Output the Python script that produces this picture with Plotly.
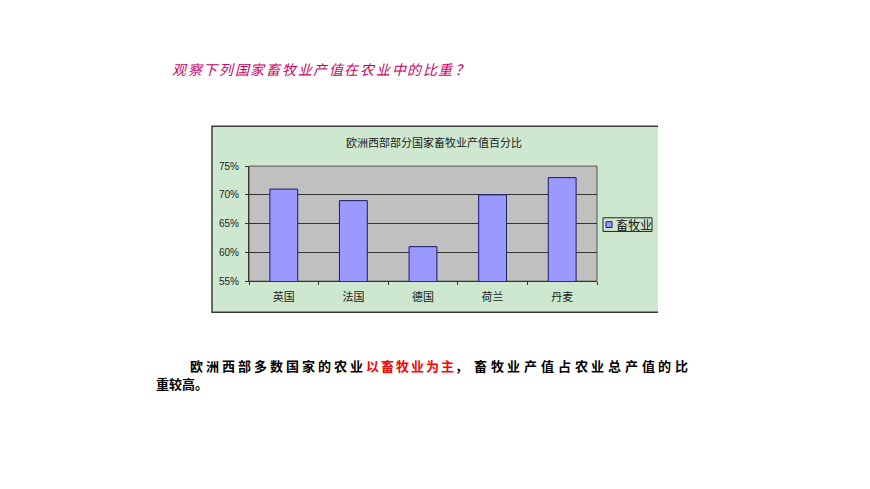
import plotly.graph_objects as go

countries = ["英国", "法国", "德国", "荷兰", "丹麦"]
livestock_share = [71, 69, 61, 70, 73]
series_name = "畜牧业"
chart_title = "欧洲西部部分国家畜牧业产值百分比"
slide_title = "观察下列国家畜牧业产值在农业中的比重？"
body_line1 = [("欧洲西部多数国家的农业", "black"), ("以畜牧业为主", "#ff0000"),
              ("，", "black"), ("畜牧业产值占农业总产值的比", "black")]
body_line2 = "重较高。"

# page body has an 8px margin, so the figure is a bit smaller than the window
OFF = 8
W, H = 870 - OFF, 489 - OFF
CJK = "Noto Sans CJK SC"
BAR_COLOR = "#9999ff"
GREEN = "#cde8cf"


def px(x):
    return (x - OFF) / W


def py(y):
    return 1 - (y - OFF) / H


def text(t, x, y, size, color, xanchor="center", **font):
    return dict(text=t, xref="paper", yref="paper", x=px(x), y=py(y),
                xanchor=xanchor, yanchor="middle", showarrow=False,
                font=dict(family=CJK, size=size, color=color, **font))


fig = go.Figure()
fig.add_trace(go.Bar(
    x=countries, y=livestock_share, name=series_name, width=0.4,
    marker=dict(color=BAR_COLOR, line=dict(color="#1a1a66", width=1)),
    showlegend=False,
))

shapes = [
    # chart area
    dict(type="rect", xref="paper", yref="paper", x0=px(212), x1=px(658),
         y0=py(314), y1=py(123), fillcolor=GREEN, line=dict(width=0), layer="below"),
    dict(type="path", xref="paper", yref="paper",
         path=f"M {px(658)} {py(314)} L {px(212)} {py(314)} L {px(212)} {py(123)} L {px(658)} {py(123)}",
         line=dict(color="#3a3a3a", width=1.5)),
    # plot area
    dict(type="rect", xref="paper", yref="paper", x0=px(249), x1=px(597),
         y0=py(282), y1=py(164), fillcolor="#c0c0c0", line=dict(color="#555555", width=1), layer="below"),
    # legend box
    dict(type="rect", xref="paper", yref="paper", x0=px(603), x1=px(652),
         y0=py(231), y1=py(217), fillcolor=GREEN, line=dict(color="#222222", width=1)),
    dict(type="rect", xref="paper", yref="paper", x0=px(606), x1=px(612),
         y0=py(227), y1=py(221), fillcolor=BAR_COLOR, line=dict(color="#1a1a66", width=1)),
]

annotations = [
    text(chart_title, 434, 139, 11, "#222222"),
    text(series_name, 614, 224, 12, "#111111", xanchor="left"),
]

# slide title, one char per slot
pitch = (470 - 172) / len(slide_title)
for i, ch in enumerate(slide_title):
    annotations.append(text(ch, 172 + pitch * (i + 0.5), 64, 14, "#cc0066", style="italic"))

# body text line 1 (justified, each run spread over its own span)
spans = [(188, 365), (365, 455), (455, 469), (472, 690)]
for (seg, col), (x0, x1) in zip(body_line1, spans):
    pitch = (x1 - x0) / len(seg)
    for i, ch in enumerate(seg):
        annotations.append(text(f"<b>{ch}</b>", x0 + pitch * (i + 0.5), 368, 13, col))
annotations.append(text(f"<b>{body_line2}</b>", 154, 387, 13, "black", xanchor="left"))

fig.update_layout(
    width=W, height=H,
    margin=dict(l=0, r=0, t=0, b=0),
    paper_bgcolor="white",
    plot_bgcolor="rgba(0,0,0,0)",
    font=dict(family=CJK, size=11, color="#222222"),
    shapes=shapes,
    annotations=annotations,
)
fig.update_xaxes(domain=[px(249), px(597)], showline=True, linecolor="#333333",
                 ticks="outside", tickson="boundaries", ticklen=3, tickcolor="#333333",
                 tickfont=dict(size=11), showgrid=False, ticklabelstandoff=6)
fig.update_yaxes(domain=[py(282), py(164)], range=[55, 75], dtick=5, ticksuffix="%",
                 showline=True, linecolor="#333333", ticks="outside", ticklen=3,
                 tickcolor="#333333", gridcolor="#333333", gridwidth=1,
                 ticklabelstandoff=4,
                 tickfont=dict(family="Liberation Sans", size=10, color="#222222"))

fig.write_html("out.html")
